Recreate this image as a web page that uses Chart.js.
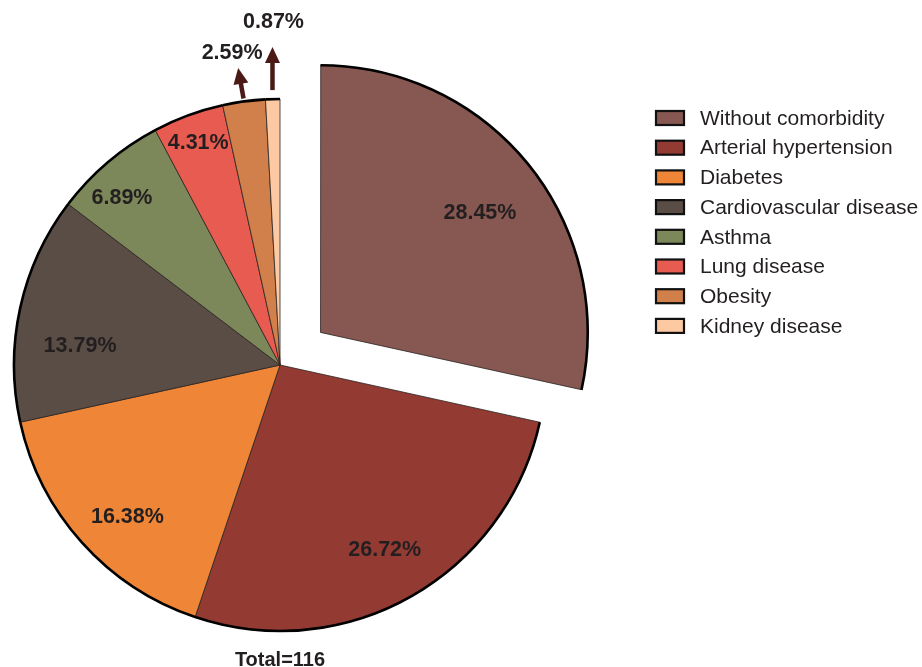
<!DOCTYPE html>
<html>
<head>
<meta charset="utf-8">
<title>Comorbidities</title>
<script src="https://cdn.jsdelivr.net/npm/chart.js@4"></script>
<style>
  html, body { margin: 0; padding: 0; background: #ffffff; }
  #wrap { width: 922px; height: 667px; position: relative; }
</style>
</head>
<body>
<div id="wrap"><canvas id="pie" width="922" height="667"></canvas></div>
<script>
// Share of patients by comorbidity (percent of the whole group)
const categories = [
  'Without comorbidity',
  'Arterial hypertension',
  'Diabetes',
  'Cardiovascular disease',
  'Asthma',
  'Lung disease',
  'Obesity',
  'Kidney disease'
];
const percentages = [28.45, 26.72, 16.38, 13.79, 6.89, 4.31, 2.59, 0.87];
const totalPatients = 116;

const sliceColors = [
  '#875852', '#933a33', '#ef8536', '#5a4d45',
  '#7d885a', '#e75b50', '#d17f4b', '#fdc9a2'
];

const FONT = '"Liberation Sans", Arial, Helvetica, sans-serif';
const TEXT = '#231f20';

// Placement of in-slice labels: fraction of the radius and angular nudge (deg)
const inLabel = [
  [0.745, 2], [0.80, 0], [0.81, -3], [0.755, -7], [0.865, -3], [0.89, 0]
];
// Small slices get a label outside with an arrow: length, tilt (deg), label shift
const outLabel = {
  6: { gap: 3, len: 31, tilt: -10, dx: -6, dy: -15 },
  7: { gap: 9, len: 43, tilt: 0, dx: 1, dy: -25 }
};

function arcGeometry(el) {
  const o = el.options;
  const off = (o.offset || 0) / 4;
  const mid = (el.startAngle + el.endAngle) / 2;
  const circ = el.endAngle - el.startAngle;
  const fix = 1 - Math.sin(Math.min(Math.PI, circ));
  return {
    cx: el.x + Math.cos(mid) * off,
    cy: el.y + Math.sin(mid) * off,
    r: el.outerRadius + off * fix,
    mid
  };
}

const outlineAndLabels = {
  id: 'outlineAndLabels',
  afterDatasetsDraw(chart) {
    const ctx = chart.ctx;
    const meta = chart.getDatasetMeta(0);
    ctx.save();
    // heavy outer rim on every slice
    meta.data.forEach(el => {
      const g = arcGeometry(el);
      ctx.beginPath();
      ctx.arc(g.cx, g.cy, g.r, el.startAngle, el.endAngle);
      ctx.lineWidth = 2.6;
      ctx.strokeStyle = '#000000';
      ctx.stroke();
    });
    // percentage labels
    ctx.fillStyle = TEXT;
    ctx.font = 'bold 21.5px ' + FONT;
    ctx.textAlign = 'center';
    ctx.textBaseline = 'middle';
    meta.data.forEach((el, i) => {
      const g = arcGeometry(el);
      const text = percentages[i].toFixed(2) + '%';
      if (inLabel[i]) {
        const [f, nudge] = inLabel[i];
        const a = g.mid + nudge * Math.PI / 180;
        ctx.fillText(text, g.cx + Math.cos(a) * g.r * f, g.cy + Math.sin(a) * g.r * f);
      } else if (outLabel[i]) {
        const s = outLabel[i];
        const x0 = g.cx + Math.cos(g.mid) * (g.r + s.gap);
        const y0 = g.cy + Math.sin(g.mid) * (g.r + s.gap);
        const t = s.tilt * Math.PI / 180;
        const ux = Math.sin(t), uy = -Math.cos(t);
        const x1 = x0 + ux * s.len, y1 = y0 + uy * s.len;
        // shaft
        const headLen = 16, headW = 7.5;
        ctx.strokeStyle = '#4b1a16';
        ctx.lineWidth = 4.5;
        ctx.lineCap = 'butt';
        ctx.beginPath();
        ctx.moveTo(x0, y0);
        ctx.lineTo(x1 - ux * headLen * 0.8, y1 - uy * headLen * 0.8);
        ctx.stroke();
        // head
        const bx = x1 - ux * headLen, by = y1 - uy * headLen;
        ctx.fillStyle = '#4b1a16';
        ctx.beginPath();
        ctx.moveTo(x1, y1);
        ctx.lineTo(bx - uy * headW, by + ux * headW);
        ctx.lineTo(bx + uy * headW, by - ux * headW);
        ctx.closePath();
        ctx.fill();
        ctx.fillStyle = TEXT;
        ctx.fillText(text, x1 + s.dx, y1 + s.dy);
      }
    });
    ctx.restore();
  },
  afterDraw(chart) {
    const ctx = chart.ctx;
    const ds = chart.data.datasets[0];
    ctx.save();
    // legend on the right
    ctx.font = '21px ' + FONT;
    ctx.textAlign = 'left';
    ctx.textBaseline = 'middle';
    chart.data.labels.forEach((lab, i) => {
      const y = 118 + i * 29.7;
      ctx.fillStyle = ds.backgroundColor[i];
      ctx.fillRect(656, y - 7, 28, 14);
      ctx.lineWidth = 2.2;
      ctx.strokeStyle = '#111111';
      ctx.strokeRect(656, y - 7, 28, 14);
      ctx.fillStyle = TEXT;
      ctx.fillText(lab, 700, y + 1);
    });
    // group size under the pie
    ctx.font = 'bold 20px ' + FONT;
    ctx.textAlign = 'center';
    ctx.textBaseline = 'alphabetic';
    ctx.fillText('Total=' + totalPatients, 280, 666);
    ctx.restore();
  }
};

new Chart(document.getElementById('pie'), {
  type: 'pie',
  data: {
    labels: categories,
    datasets: [{
      data: percentages,
      backgroundColor: sliceColors,
      borderColor: '#2a2321',
      borderWidth: 0.8,
      offset: [208, 0, 0, 0, 0, 0, 0, 0],
      radius: 266,
      clip: false
    }]
  },
  options: {
    responsive: false,
    animation: false,
    events: [],
    layout: { padding: { left: 0, right: 362, top: 63, bottom: 0 } },
    plugins: {
      legend: { display: false },
      tooltip: { enabled: false },
      title: { display: false }
    }
  },
  plugins: [outlineAndLabels]
});
</script>
</body>
</html>
